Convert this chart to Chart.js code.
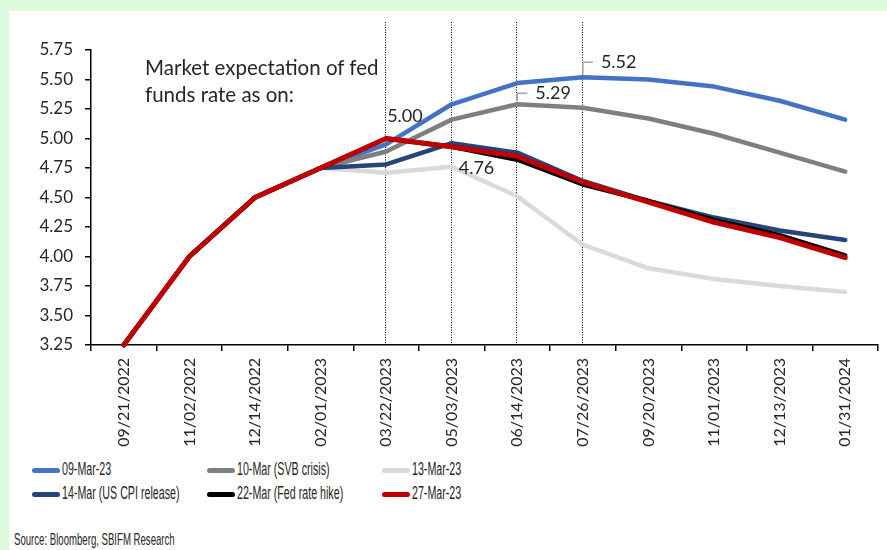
<!DOCTYPE html>
<html>
<head>
<meta charset="utf-8">
<script src="https://cdn.jsdelivr.net/npm/chart.js@4"></script>
<style>
  body { margin: 0; width: 887px; height: 550px; background: rgb(221,250,221); position: relative; overflow: hidden; }
  #panel { position: absolute; left: 9px; top: 11px; right: 0; bottom: 0; background: #fff; }
  #wrap { position: absolute; left: 0; top: 0; width: 887px; height: 455px; }
  .note { position: absolute; left: 145px; top: 54px; font: 20.5px Lato, sans-serif; color: #262626; line-height: 27px; }
  .leg { position: absolute; color: #262626; white-space: nowrap; }
  .leg i { position: absolute; left: 0; top: 50%; width: 28px; height: 5px; margin-top: -2px; border-radius: 3px; }
  .leg span { position: absolute; left: 30px; top: 0; font: 17.5px "Liberation Sans", Arial, sans-serif; transform: scaleX(0.61); transform-origin: 0 50%; }
  #source { position: absolute; left: 14px; top: 530px; font: 17px "Liberation Sans", Arial, sans-serif; color: #262626; transform: scaleX(0.565); transform-origin: 0 50%; white-space: nowrap; }
</style>
</head>
<body>
<div id="panel"></div>
<div id="wrap"><canvas id="rateChart" width="887" height="455"></canvas></div>
<div class="note">Market expectation of fed<br>funds rate as on:</div>
<div id="legend"></div>
<div id="source">Source: Bloomberg, SBIFM Research</div>
<script>
// ---- data ----
const dates = ['09/21/2022', '11/02/2022', '12/14/2022', '02/01/2023', '03/22/2023', '05/03/2023',
               '06/14/2023', '07/26/2023', '09/20/2023', '11/01/2023', '12/13/2023', '01/31/2024'];

const mar09 = [3.25, 4.00, 4.50, 4.75, 4.95, 5.29, 5.47, 5.52, 5.50, 5.44, 5.32, 5.16];
const mar10 = [3.25, 4.00, 4.50, 4.75, 4.89, 5.16, 5.29, 5.26, 5.17, 5.04, 4.88, 4.72];
const mar13 = [3.25, 4.00, 4.50, 4.75, 4.71, 4.76, 4.51, 4.10, 3.90, 3.81, 3.75, 3.70];
const mar14 = [3.25, 4.00, 4.50, 4.75, 4.78, 4.96, 4.88, 4.64, 4.47, 4.33, 4.22, 4.14];
const mar22 = [3.25, 4.00, 4.50, 4.75, 5.00, 4.93, 4.82, 4.61, 4.47, 4.31, 4.18, 4.01];
const mar27 = [3.25, 4.00, 4.50, 4.75, 5.00, 4.93, 4.85, 4.63, 4.46, 4.29, 4.16, 3.99];

const seriesNames  = ['09-Mar-23', '10-Mar (SVB crisis)', '13-Mar-23', '14-Mar (US CPI release)', '22-Mar (Fed rate hike)', '27-Mar-23'];
const seriesValues = [mar09, mar10, mar13, mar14, mar22, mar27];
const seriesColors = ['#4472c4', '#7f7f7f', '#dadada', '#264478', '#000000', '#c00000'];

const yTicks = [3.25, 3.50, 3.75, 4.00, 4.25, 4.50, 4.75, 5.00, 5.25, 5.50, 5.75];
const markerIdx = [4, 5, 6, 7];   // dotted event lines

// ---- plugins ----
const dottedLines = {
  id: 'dottedLines',
  beforeDatasetsDraw(chart) {
    const { ctx, scales: { x, y } } = chart;
    ctx.save();
    ctx.strokeStyle = '#000';
    ctx.lineWidth = 1;
    ctx.setLineDash([1, 1.5]);
    markerIdx.forEach(i => {
      const px = Math.round(x.getPixelForValue(i)) - 0.5;
      ctx.beginPath();
      ctx.moveTo(px, 22);
      ctx.lineTo(px, y.bottom);
      ctx.stroke();
    });
    ctx.restore();
  }
};

const valueLabels = {
  id: 'valueLabels',
  afterDatasetsDraw(chart) {
    const { ctx, scales: { x, y } } = chart;
    ctx.save();
    ctx.font = '18px Lato, sans-serif';
    ctx.fillStyle = '#262626';
    ctx.textBaseline = 'middle';
    ctx.textAlign = 'left';

    // 5.00 above red peak
    let px = x.getPixelForValue(4), py = y.getPixelForValue(mar27[4]);
    ctx.fillText(mar27[4].toFixed(2), px + 1, py - 22);

    // 4.76 right of light grey point
    px = x.getPixelForValue(5); py = y.getPixelForValue(mar13[5]);
    ctx.fillText(mar13[5].toFixed(2), px + 7, py + 1);

    // leader lines for 5.29 and 5.52
    ctx.strokeStyle = '#a6a6a6';
    ctx.lineWidth = 1.5;
    [[mar10, 6, 11], [mar09, 7, 15]].forEach(([arr, i, up]) => {
      const lx = x.getPixelForValue(i), ly = y.getPixelForValue(arr[i]);
      ctx.beginPath();
      ctx.moveTo(lx, ly - 3);
      ctx.lineTo(lx, ly - up);
      ctx.lineTo(lx + 10, ly - up);
      ctx.stroke();
      ctx.fillText(arr[i].toFixed(2), lx + 18, ly - up);
    });
    ctx.restore();
  }
};

// ---- chart ----
Chart.defaults.font.family = 'Lato, sans-serif';
Chart.defaults.color = '#262626';

new Chart(document.getElementById('rateChart'), {
  type: 'line',
  data: {
    labels: dates,
    datasets: seriesValues.map((vals, i) => ({
      label: seriesNames[i],
      data: vals,
      borderColor: seriesColors[i],
      backgroundColor: seriesColors[i],
      borderWidth: i === 5 ? 5 : 4.5,
      borderCapStyle: 'round',
      borderJoinStyle: 'round',
      pointRadius: 0,
      tension: 0,
      clip: 8,
      order: 5 - i
    }))
  },
  options: {
    responsive: false,
    animation: false,
    events: [],
    layout: { padding: { top: 50, right: 9, left: 0, bottom: 0 } },
    plugins: { legend: { display: false }, tooltip: { enabled: false } },
    scales: {
      x: {
        offset: true,
        grid: { offset: true, drawOnChartArea: false, color: '#000', tickLength: 6, lineWidth: 1.5 },
        border: { color: '#000', width: 1.5 },
        ticks: { autoSkip: false, minRotation: 90, maxRotation: 90, padding: 7, font: { size: 16 }, color: '#262626' },
        afterFit(s) { s.height = 110; }
      },
      y: {
        min: 3.25, max: 5.75,
        afterBuildTicks(s) { s.ticks = yTicks.map(v => ({ value: v })); },
        grid: { drawOnChartArea: false, color: '#000', tickLength: 6, lineWidth: 1.5 },
        border: { color: '#000', width: 1.5 },
        ticks: { padding: 12, font: { size: 17 }, color: '#262626', callback: v => Number(v).toFixed(2) },
        afterFit(s) { s.width = 91; }
      }
    }
  },
  plugins: [dottedLines, valueLabels]
});

// ---- legend (3 columns x 2 rows) ----
const legend = document.getElementById('legend');
seriesNames.forEach((name, i) => {
  const item = document.createElement('div');
  item.className = 'leg';
  item.style.left = (32 + (i % 3) * 175) + 'px';
  item.style.top = (459 + Math.floor(i / 3) * 24) + 'px';
  item.style.height = '22px';
  item.style.width = '170px';
  item.innerHTML = '<i style="background:' + seriesColors[i] + '"></i><span>' + name + '</span>';
  legend.appendChild(item);
});
</script>
</body>
</html>
